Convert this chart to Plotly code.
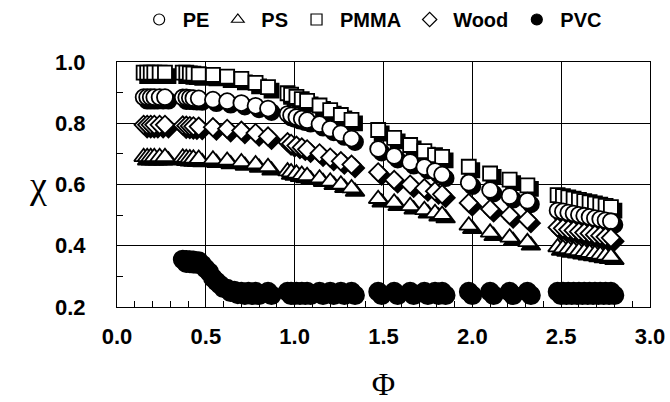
import plotly.graph_objects as go

# ---------------- data ----------------
phi = [0.15, 0.17, 0.19, 0.21, 0.24, 0.27,
       0.37, 0.39, 0.41, 0.43, 0.46,
       0.54, 0.62, 0.70, 0.78, 0.85,
       0.96, 0.98, 1.01, 1.04, 1.07, 1.14, 1.20, 1.26, 1.32,
       1.47, 1.56, 1.65, 1.73, 1.79, 1.83,
       1.98, 2.10, 2.21, 2.31,
       2.48, 2.51, 2.54, 2.57, 2.60, 2.63, 2.66, 2.69, 2.72, 2.75, 2.78]

pmma = [0.965, 0.965, 0.965, 0.965, 0.965, 0.965,
        0.965, 0.965, 0.963, 0.962, 0.960,
        0.958, 0.952, 0.945, 0.932, 0.918,
        0.898, 0.893, 0.886, 0.879, 0.873, 0.858, 0.843, 0.827, 0.811,
        0.778, 0.752, 0.729, 0.709, 0.696, 0.690,
        0.658, 0.636, 0.616, 0.597,
        0.565, 0.562, 0.558, 0.554, 0.550, 0.546, 0.542, 0.538, 0.534, 0.530, 0.526]

pe = [0.885, 0.885, 0.885, 0.885, 0.885, 0.885,
      0.884, 0.884, 0.883, 0.882, 0.881,
      0.877, 0.872, 0.866, 0.857, 0.848,
      0.830, 0.826, 0.820, 0.815, 0.810, 0.797, 0.782, 0.767, 0.750,
      0.716, 0.693, 0.673, 0.657, 0.644, 0.632,
      0.606, 0.582, 0.562, 0.547,
      0.515, 0.512, 0.508, 0.505, 0.501, 0.498, 0.494, 0.490, 0.487, 0.483, 0.480]

wood = [0.795, 0.795, 0.795, 0.795, 0.795, 0.795,
        0.793, 0.792, 0.791, 0.790, 0.789,
        0.787, 0.782, 0.776, 0.768, 0.757,
        0.738, 0.733, 0.727, 0.721, 0.715, 0.702, 0.688, 0.676, 0.665,
        0.640, 0.615, 0.600, 0.588, 0.578, 0.568,
        0.540, 0.520, 0.500, 0.485,
        0.460, 0.457, 0.453, 0.450, 0.446, 0.443, 0.440, 0.436, 0.433, 0.429, 0.426]

ps = [0.690, 0.690, 0.690, 0.690, 0.690, 0.690,
      0.688, 0.687, 0.686, 0.685, 0.684,
      0.682, 0.678, 0.673, 0.666, 0.657,
      0.643, 0.640, 0.636, 0.632, 0.628, 0.620, 0.610, 0.600, 0.588,
      0.553, 0.541, 0.530, 0.517, 0.507, 0.501,
      0.466, 0.443, 0.427, 0.412,
      0.395, 0.392, 0.389, 0.386, 0.383, 0.380, 0.377, 0.374, 0.371, 0.368, 0.365]

phi_pvc = [0.37, 0.39, 0.41, 0.43, 0.46, 0.50, 0.54, 0.58, 0.62, 0.66, 0.70, 0.74, 0.78, 0.85,
           0.96, 0.98, 1.01, 1.04, 1.07, 1.14, 1.20, 1.26, 1.32,
           1.47, 1.56, 1.65, 1.73, 1.79, 1.83,
           1.98, 2.10, 2.21, 2.31,
           2.48, 2.51, 2.54, 2.57, 2.60, 2.63, 2.66, 2.69, 2.72, 2.75, 2.78]
pvc = [0.355, 0.354, 0.353, 0.352, 0.350, 0.325, 0.295, 0.273, 0.260, 0.253, 0.250, 0.250, 0.250, 0.250,
       0.250, 0.250, 0.250, 0.250, 0.250, 0.250, 0.250, 0.250, 0.250,
       0.250, 0.250, 0.250, 0.250, 0.250, 0.250,
       0.250, 0.250, 0.250, 0.250,
       0.250, 0.250, 0.250, 0.250, 0.250, 0.250, 0.250, 0.250, 0.250, 0.250, 0.250]

x_ticks = [0.0, 0.5, 1.0, 1.5, 2.0, 2.5, 3.0]
y_ticks = [0.2, 0.4, 0.6, 0.8, 1.0]

# ---------------- styling ----------------
W, H = 670, 402
ML, MR, MT, MB = 117, 20, 62, 95
XR = [0.0, 3.0]
YR = [0.2, 1.0]
SH = 3.5  # shadow offset in px
DX = SH * (XR[1] - XR[0]) / (W - ML - MR)
DY = -SH * (YR[1] - YR[0]) / (H - MT - MB)

TICKFONT = dict(family="Liberation Sans, Arial, sans-serif", size=22, color="black", weight="bold")
SERIF = "Liberation Serif, Times New Roman, serif"


def shadowed(x, y, symbol, size, fill):
    xx, yy, cc = [], [], []
    for a, b in zip(x, y):
        xx += [a + DX, a]
        yy += [b + DY, b]
        cc += ["black", fill]
    return go.Scatter(x=xx, y=yy, mode="markers", showlegend=False, hoverinfo="skip",
                      marker=dict(symbol=symbol, size=size, color=cc,
                                  line=dict(color="black", width=1.8)))


fig = go.Figure()
fig.add_trace(shadowed(phi, pmma, "square", 14, "white"))
fig.add_trace(shadowed(phi, pe, "circle", 16, "white"))
fig.add_trace(shadowed(phi, wood, "diamond", 14, "white"))
fig.add_trace(shadowed(phi, ps, "triangle-up", 16.5, "white"))
fig.add_trace(shadowed(phi_pvc, pvc, "circle", 18, "black"))

# legend entries
legend_items = [("PE", "circle", "white"), ("PS", "triangle-up", "white"),
                ("PMMA", "square", "white"), ("Wood", "diamond", "white"),
                ("PVC", "circle", "black")]
for name, sym, fill in legend_items:
    fig.add_trace(go.Scatter(x=[None], y=[None], mode="markers", name=name,
                             marker=dict(symbol=sym, size=11, color=fill,
                                         line=dict(color="black", width=1.2))))

axis_common = dict(showline=True, linecolor="black", linewidth=1.2, mirror=True,
                   showgrid=True, gridcolor="black", gridwidth=1, zeroline=False,
                   ticks="inside", ticklen=6, tickcolor="black", tickwidth=1,
                   tickfont=TICKFONT, tickformat=".1f", automargin=False)

fig.update_layout(
    width=W, height=H,
    margin=dict(l=ML, r=MR, t=MT, b=MB),
    paper_bgcolor="white", plot_bgcolor="white",
    showlegend=True,
    legend=dict(orientation="h", x=0.035, xanchor="left", y=1.0, yanchor="top",
                yref="container", itemwidth=37,
                font=dict(family="Liberation Sans, Arial, sans-serif", size=20, color="black", weight="bold"),
                bgcolor="rgba(0,0,0,0)"),
    xaxis=dict(range=XR, tickvals=x_ticks, ticklabelstandoff=9,
               minor=dict(dtick=0.1, ticks="inside", ticklen=6, tickcolor="black", showgrid=False),
               title=dict(text="Φ", font=dict(family=SERIF, size=32, color="black"), standoff=26),
               **axis_common),
    yaxis=dict(range=YR, tickvals=y_ticks, ticklabelstandoff=26,
               minor=dict(dtick=0.1, ticks="inside", ticklen=6, tickcolor="black", showgrid=False),
               **axis_common),
    annotations=[dict(text="χ", x=(38 - ML) / (W - ML - MR), y=(H - MB - 185) / (H - MT - MB),
                      xref="paper", yref="paper", xanchor="center", yanchor="middle",
                      showarrow=False, font=dict(family=SERIF, size=38, color="black"))],
)

fig.write_html("out.html")
